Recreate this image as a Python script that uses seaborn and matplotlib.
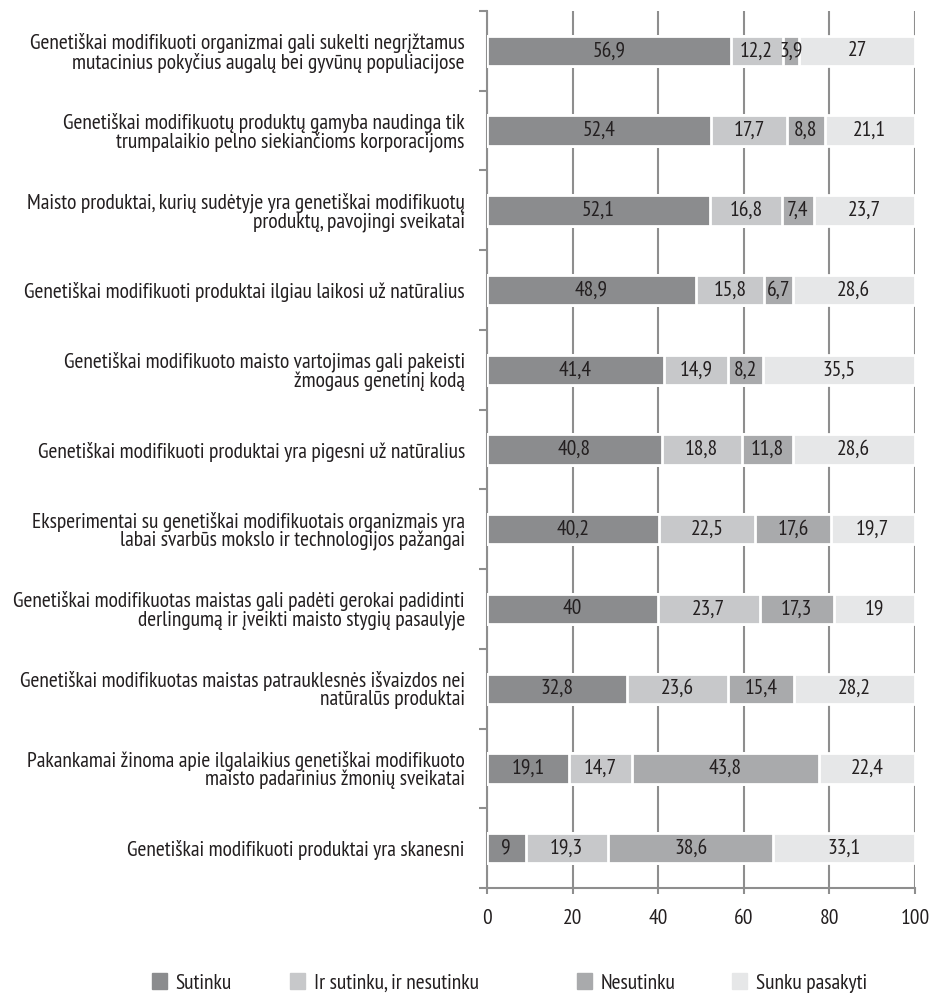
import numpy as np
import matplotlib
matplotlib.use('Agg')
import matplotlib.pyplot as plt
import matplotlib.patches as mpatches
import seaborn as sns

# Data, top to bottom
statements = [
    "Genetiškai modifikuoti organizmai gali sukelti negrįžtamus\nmutacinius pokyčius augalų bei gyvūnų populiacijose",
    "Genetiškai modifikuotų produktų gamyba naudinga tik\ntrumpalaikio pelno siekiančioms korporacijoms",
    "Maisto produktai, kurių sudėtyje yra genetiškai modifikuotų\nproduktų, pavojingi sveikatai",
    "Genetiškai modifikuoti produktai ilgiau laikosi už natūralius",
    "Genetiškai modifikuoto maisto vartojimas gali pakeisti\nžmogaus genetinį kodą",
    "Genetiškai modifikuoti produktai yra pigesni už natūralius",
    "Eksperimentai su genetiškai modifikuotais organizmais yra\nlabai svarbūs mokslo ir technologijos pažangai",
    "Genetiškai modifikuotas maistas gali padėti gerokai padidinti\nderlingumą ir įveikti maisto stygių pasaulyje",
    "Genetiškai modifikuotas maistas patrauklesnės išvaizdos nei\nnatūralūs produktai",
    "Pakankamai žinoma apie ilgalaikius genetiškai modifikuoto\nmaisto padarinius žmonių sveikatai",
    "Genetiškai modifikuoti produktai yra skanesni",
]
sutinku = [56.9, 52.4, 52.1, 48.9, 41.4, 40.8, 40.2, 40, 32.8, 19.1, 9]
ir_sutinku_ir_nesutinku = [12.2, 17.7, 16.8, 15.8, 14.9, 18.8, 22.5, 23.7, 23.6, 14.7, 19.3]
nesutinku = [3.9, 8.8, 7.4, 6.7, 8.2, 11.8, 17.6, 17.3, 15.4, 43.8, 38.6]
sunku_pasakyti = [27, 21.1, 23.7, 28.6, 35.5, 28.6, 19.7, 19, 28.2, 22.4, 33.1]
series_names = ["Sutinku", "Ir sutinku, ir nesutinku", "Nesutinku", "Sunku pasakyti"]
colors = ["#8b8c8e", "#c7c8ca", "#a9aaac", "#e6e7e8"]

sns.set_theme(style='white')
plt.rcParams['font.family'] = ['PT Sans Narrow', 'DejaVu Sans']
text_color = '#231f20'
fs = 15.5

series = np.array([sutinku, ir_sutinku_ir_nesutinku, nesutinku, sunku_pasakyti])
cum = np.cumsum(series, axis=0)

fig = plt.figure(figsize=(9.31, 9.94), dpi=100)
ax = fig.add_axes([0.5231, 0.1066, 0.4597, 0.8823])

# stacked bars: draw cumulative totals from the largest down
for k in range(3, -1, -1):
    sns.barplot(x=cum[k], y=statements, color=colors[k], orient='h', width=0.38,
                edgecolor='white', linewidth=2, saturation=1, ax=ax, zorder=3)

# value labels
for k in range(4):
    for i, v in enumerate(series[k]):
        label = f"{v:g}".replace('.', ',')
        ax.text(cum[k][i] - v / 2, i, label, ha='center', va='center',
                fontsize=fs, color=text_color, zorder=5)

ax.set_xlim(0, 100)
ax.set_xticks(range(0, 101, 20))
ax.set_xlabel('')
ax.set_ylabel('')
ax.xaxis.grid(True, color='#8e8e8e', linewidth=1.5)
ax.set_axisbelow(True)

for side in ['top', 'right']:
    ax.spines[side].set_visible(False)
for side in ['left', 'bottom']:
    ax.spines[side].set_color('#8e8e8e')
    ax.spines[side].set_linewidth(1.5)

ax.set_yticks(np.arange(-0.5, len(statements), 1), minor=True)
ax.tick_params(axis='y', which='major', length=0, pad=16, labelsize=fs, labelcolor=text_color)
ax.tick_params(axis='y', which='minor', left=True, length=6, width=1.5, color='#8e8e8e')
ax.tick_params(axis='x', which='major', bottom=True, length=4, width=1.5, color='#8e8e8e',
               pad=11, labelsize=fs, labelcolor=text_color)
for t in ax.get_yticklabels():
    t.set_linespacing(0.95)

# legend, one entry at a time to follow the reference spacing
legend_x = [152, 290, 577, 732]
for name, c, x in zip(series_names, colors, legend_x):
    h = mpatches.Patch(color=c, label=name)
    fig.legend(handles=[h], loc='center left', bbox_to_anchor=(x / 931, 1 - 983 / 994),
               frameon=False, fontsize=fs, handlelength=0.7, handleheight=0.7,
               handletextpad=0.4, borderpad=0, borderaxespad=0, labelcolor=text_color)

fig.savefig('out.png', dpi=100)
